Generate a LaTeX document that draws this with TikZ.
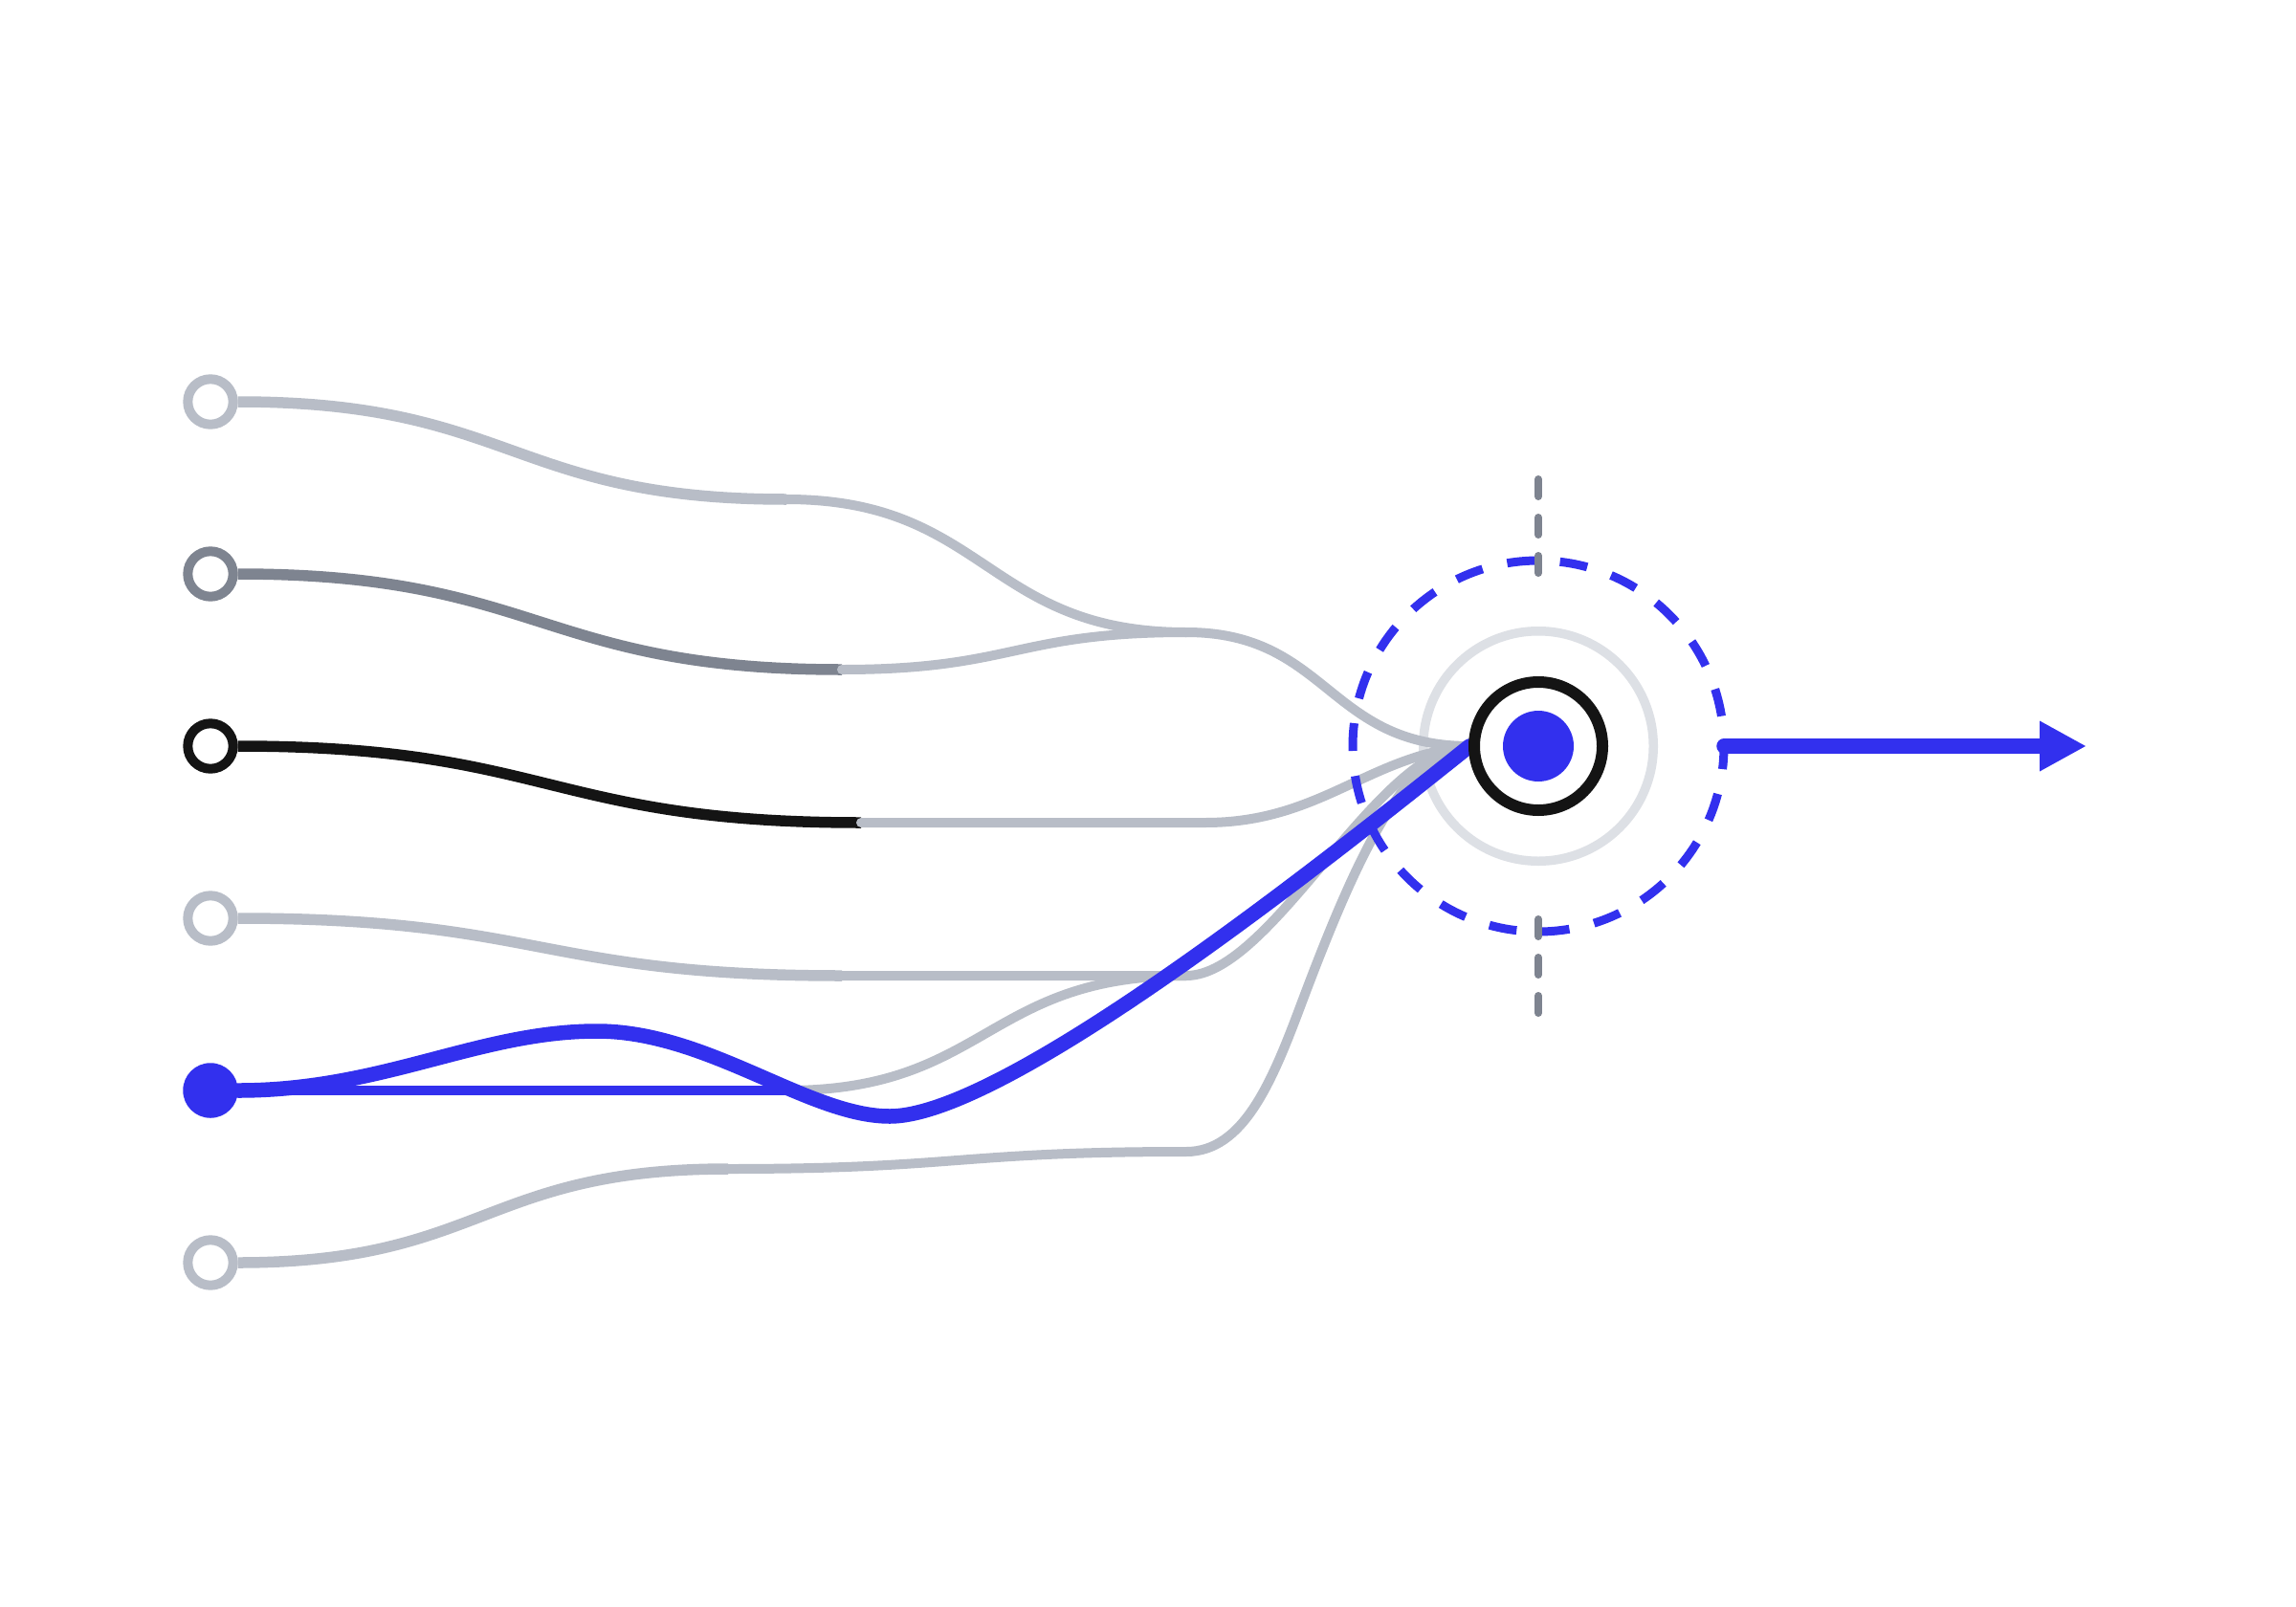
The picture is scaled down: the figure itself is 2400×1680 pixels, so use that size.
\documentclass[tikz,border=0pt]{standalone}
\usetikzlibrary{arrows.meta}
\definecolor{lgray}{HTML}{B8BDC7}
\definecolor{mgray}{HTML}{7E8490}
\definecolor{ink}{HTML}{141414}
\definecolor{accent}{RGB}{50,48,238}
\definecolor{halo}{HTML}{DDE0E5}
\begin{document}
\begin{tikzpicture}[x=1pt,y=-1pt,
  inring/.style={circle, inner sep=0pt, minimum size=47.4pt, line width=10pt, fill=white},
  feed/.style={line width=11.5pt},
  trunk/.style={draw=lgray, line width=10pt, line cap=round},
  hot/.style={draw=accent, line width=15.5pt, line cap=round},
  tick/.style={draw=mgray, line width=8pt, line cap=round, dash pattern=on 18pt off 22pt}]
\fill[white] (0,0) rectangle (2400,1680);
\useasboundingbox (0,0) rectangle (2400,1680);

% halo ring
\node[circle, draw=halo, line width=9.5pt, minimum size=240.5pt, inner sep=0pt] (halo) at (1608,780) {};

% inputs
\node[inring, draw=lgray] (in1) at (220,420) {};
\node[inring, draw=mgray] (in2) at (220,600) {};
\node[inring, draw=ink]   (in3) at (220,780) {};
\node[inring, draw=lgray] (in4) at (220,960) {};
\node[circle, fill=accent, inner sep=0pt, minimum size=57.5pt] (in5) at (220,1140) {};
\node[inring, draw=lgray] (in6) at (220,1320) {};

% junctions
\coordinate (j1a) at (822,522);
\coordinate (j1b) at (1240,661);
\coordinate (j2)  at (880,700);
\coordinate (j3)  at (900,860);
\coordinate (j3b) at (1260,860);
\coordinate (j4a) at (880,1020);
\coordinate (j4b) at (1240,1020);
\coordinate (j5)  at (822,1140);
\coordinate (j6a) at (761,1222);
\coordinate (j6b) at (1240,1204);
\coordinate (hub) at (1536,780);

% first segments
\draw[feed, draw=lgray] (in1.east) .. controls +(287,0) and +(-287,0) .. (j1a);
\draw[feed, draw=mgray] (in2.east) .. controls +(316,0) and +(-316,0) .. (j2);
\draw[feed, draw=ink]   (in3.east) .. controls +(326,0) and +(-326,0) .. (j3);
\draw[feed, draw=lgray] (in4.east) .. controls +(316,0) and +(-316,0) .. (j4a);
\draw[feed, draw=accent, line width=10pt] (in5.east) -- (j5);
\draw[feed, draw=lgray] (in6.east) .. controls +(256,0) and +(-256,0) .. (j6a);

% trunks
\draw[trunk] (j1a) .. controls +(209,0) and +(-209,0) .. (j1b);
\draw[trunk] (j2) .. controls +(180,0) and +(-180,0) .. (j1b);
\draw[trunk] (j1b) .. controls +(148,0) and +(-148,0) .. (hub);
\draw[trunk] (j3) -- (j3b) .. controls (1380,860) and (1430,790) .. (hub);
\draw[trunk] (j4a) -- (j4b) .. controls (1330,1020) and (1440,780) .. (hub);
\draw[trunk] (j5) .. controls +(209,0) and +(-209,0) .. (j4b);
\draw[trunk] (j6a) .. controls +(240,0) and +(-240,0) .. (j6b)
  .. controls (1300,1204) and (1330,1130) .. (1360,1050)
  .. controls (1420,890) and (1470,785) .. (hub);

% dashed blue orbit
\draw[accent, line width=9pt, dash pattern=on 29pt off 26.4pt]
  (1608,780) ++(-1.44:194) arc[start angle=-1.44, end angle=358.56, radius=194];

% vertical ticks
\coordinate (tA) at (1608,501);
\coordinate (tB) at (1608,599);
\coordinate (tC) at (1608,961);
\coordinate (tD) at (1608,1059);
\draw[tick] (tA) -- (tB);
\draw[tick] (tC) -- (tD);

% highlighted path
\draw[hot] (in5.east) .. controls (400,1140) and (500,1078) .. (624,1078)
  .. controls (740,1078) and (845,1167) .. (930,1167)
  .. controls (1050,1167) and (1380,905) .. (hub);

% core
\node[circle, draw=ink, line width=12pt, fill=white, minimum size=134pt, inner sep=0pt] (core) at (1608,780) {};
\node[circle, fill=accent, minimum size=74pt, inner sep=0pt] (dot) at (core) {};

% output arrow
\coordinate (outS) at (1802,780);
\coordinate (outE) at (2180,780);
\draw[accent, line width=15.5pt, line cap=round, -{Triangle[length=48pt,width=53pt,line width=0pt]}] (outS) -- (outE);
\end{tikzpicture}
\end{document}
